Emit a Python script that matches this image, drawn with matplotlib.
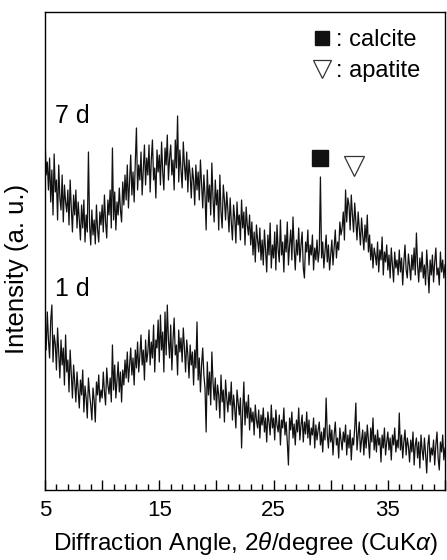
import numpy as np
import matplotlib
matplotlib.use('Agg')
import matplotlib.pyplot as plt

plt.rcParams['font.family'] = ['Liberation Sans', 'DejaVu Sans']
plt.rcParams['mathtext.fontset'] = 'custom'
plt.rcParams['mathtext.it'] = 'Liberation Sans:italic'

# 2theta grid (deg), 0.1 step, 5 -> 40
two_theta = np.linspace(5.0, 40.0, 351)

# intensity (a.u.), one row per degree
int_1d = [
    165, 140, 178, 150, 132, 170, 185, 128, 155, 146,
    120, 162, 138, 112, 150, 125, 142, 105, 155, 118,
    130, 98, 140, 115, 92, 125, 108, 88, 118, 100,
    82, 110, 95, 120, 78, 104, 92, 72, 112, 96,
    85, 70, 102, 90, 68, 108, 95, 115, 88, 100,
    92, 118, 98, 85, 122, 105, 96, 112, 88, 145,
    100, 125, 92, 110, 128, 98, 118, 88, 120, 105,
    130, 112, 138, 108, 125, 142, 115, 132, 105, 140,
    122, 148, 118, 135, 155, 125, 140, 110, 150, 128,
    138, 160, 125, 148, 132, 165, 118, 150, 142, 170,
    128, 175, 140, 158, 118, 178, 135, 185, 150, 132,
    165, 120, 150, 172, 135, 145, 115, 160, 138, 152,
    128, 162, 142, 118, 150, 135, 112, 145, 125, 138,
    105, 140, 122, 168, 110, 132, 98, 125, 142, 115,
    102, 58, 128, 95, 118, 85, 138, 108, 90, 112,
    80, 105, 95, 72, 115, 88, 100, 68, 110, 92,
    78, 98, 85, 108, 70, 95, 82, 62, 100, 88,
    75, 92, 42, 80, 108, 65, 88, 72, 95, 60,
    82, 68, 78, 55, 85, 70, 62, 80, 52, 75,
    65, 82, 58, 72, 48, 78, 68, 55, 85, 62,
    72, 50, 80, 65, 58, 75, 45, 70, 62, 82,
    55, 68, 48, 25, 72, 60, 78, 52, 66, 45,
    70, 58, 82, 50, 65, 75, 48, 68, 56, 78,
    52, 70, 45, 62, 55, 72, 42, 65, 50, 60,
    68, 45, 58, 38, 62, 50, 92, 55, 42, 65,
    48, 60, 35, 55, 68, 45, 52, 32, 62, 50,
    40, 58, 48, 65, 35, 55, 42, 60, 30, 52,
    45, 62, 87, 40, 55, 68, 38, 50, 60, 35,
    58, 42, 65, 50, 32, 62, 48, 72, 40, 55,
    38, 60, 45, 52, 28, 55, 42, 62, 35, 48,
    58, 40, 52, 30, 55, 45, 62, 38, 50, 42,
    77, 40, 55, 32, 48, 60, 35, 52, 44, 28,
    50, 38, 58, 25, 45, 52, 32, 48, 22, 55,
    40, 30, 52, 36, 17, 45, 55, 28, 42, 35,
    50, 25, 45, 58, 32, 20, 48, 38, 55, 30,
    42,
]

int_7d = [
    205, 165, 178, 150, 182, 138, 170, 125, 186, 148,
    160, 120, 175, 142, 130, 165, 118, 155, 138, 128,
    150, 115, 160, 132, 108, 145, 125, 150, 112, 138,
    120, 100, 135, 112, 140, 98, 125, 108, 188, 115,
    95, 130, 105, 120, 96, 135, 110, 98, 128, 115,
    135, 108, 145, 118, 102, 140, 125, 150, 112, 192,
    120, 148, 110, 138, 125, 152, 130, 118, 158, 135,
    165, 140, 175, 132, 158, 185, 145, 168, 138, 178,
    212, 150, 175, 160, 188, 145, 170, 195, 155, 182,
    165, 195, 148, 180, 200, 160, 172, 142, 190, 168,
    185, 155, 198, 168, 150, 192, 175, 205, 160, 182,
    195, 165, 180, 150, 200, 172, 224, 158, 190, 170,
    152, 198, 175, 160, 188, 148, 180, 165, 142, 172,
    160, 135, 175, 150, 168, 140, 180, 155, 132, 165,
    145, 110, 170, 138, 155, 125, 177, 142, 118, 160,
    135, 150, 110, 165, 128, 112, 155, 140, 120, 148,
    130, 108, 142, 118, 100, 135, 122, 97, 138, 115,
    125, 100, 140, 112, 128, 95, 133, 115, 105, 125,
    95, 118, 85, 108, 78, 115, 100, 88, 112, 80,
    100, 75, 110, 90, 68, 105, 85, 117, 72, 95,
    82, 108, 70, 115, 90, 78, 120, 85, 98, 68,
    105, 88, 118, 75, 95, 110, 80, 123, 92, 70,
    100, 85, 112, 78, 95, 108, 72, 62, 98, 88,
    110, 75, 95, 85, 105, 70, 92, 80, 100, 78,
    90, 163, 82, 98, 72, 88, 105, 78, 95, 70,
    85, 100, 75, 92, 110, 82, 98, 90, 118, 105,
    112, 128, 100, 150, 118, 142, 135, 110, 145, 125,
    108, 137, 118, 100, 128, 112, 95, 122, 105, 90,
    115, 98, 125, 88, 105, 80, 96, 72, 92, 85,
    75, 98, 68, 90, 80, 103, 65, 88, 78, 95,
    70, 85, 62, 92, 75, 58, 88, 72, 80, 65,
    90, 68, 82, 55, 78, 95, 70, 62, 86, 74,
    60, 85, 70, 92, 65, 107, 75, 58, 82, 68,
    88, 62, 75, 55, 90, 70, 47, 80, 65, 85,
    58, 78, 92, 65, 72, 55, 88, 68, 80, 62,
    75,
]
offset_7d = 150

# phase markers above the 7 d pattern
calcite_pos = [29.06]
apatite_pos = [32.03]

fig = plt.figure(figsize=(4.47, 5.60), dpi=100)
ax = fig.add_axes([0.1007, 0.125, 0.8948, 0.8536])

ax.plot(two_theta, int_1d, color='#111111', lw=0.9)
ax.plot(two_theta, np.array(int_7d) + offset_7d, color='#111111', lw=0.9)

ax.plot(calcite_pos, [332], marker='s', ms=11, color='#111111', ls='none')
ax.plot(apatite_pos, [324], marker='v', ms=14, mfc='white', mec='#333333',
        mew=0.9, ls='none')

ax.text(5.87, 374, '7 d', fontsize=18, va='center', ha='left')
ax.text(5.87, 201, '1 d', fontsize=18, va='center', ha='left')

# legend for the phase symbols
ax.plot([29.23], [452], marker='s', ms=9.5, color='#111111', ls='none')
ax.text(30.5, 450, ': calcite', fontsize=17, va='center', ha='left')
ax.plot([29.23], [421], marker='v', ms=12.5, mfc='white', mec='#333333',
        mew=0.9, ls='none')
ax.text(30.5, 419, ': apatite', fontsize=17, va='center', ha='left')

ax.set_xlim(5, 40)
ax.set_ylim(0, 478)
ax.set_xticks([5, 10, 15, 20, 25, 30, 35, 40])
ax.set_xticklabels(['5', '', '15', '', '25', '', '35', ''])
ax.set_xticks(np.arange(5, 41, 1), minor=True)
ax.tick_params(axis='x', which='major', direction='in', length=7, width=1,
               labelsize=16, pad=7, top=False)
ax.tick_params(axis='x', which='minor', direction='in', length=4, width=1,
               top=False)
ax.set_yticks([])
for sp in ax.spines.values():
    sp.set_linewidth(1.0)

ax.set_xlabel(r'Diffraction Angle, 2$\it{\theta}$/degree (CuK$\it{\alpha}$)',
              fontsize=17.5)
ax.xaxis.set_label_coords(0.5, -0.083)
ax.set_ylabel('Intensity (a. u.)', fontsize=18.5)
ax.yaxis.set_label_coords(-0.04, 0.462)

fig.savefig('out.png', dpi=100)
